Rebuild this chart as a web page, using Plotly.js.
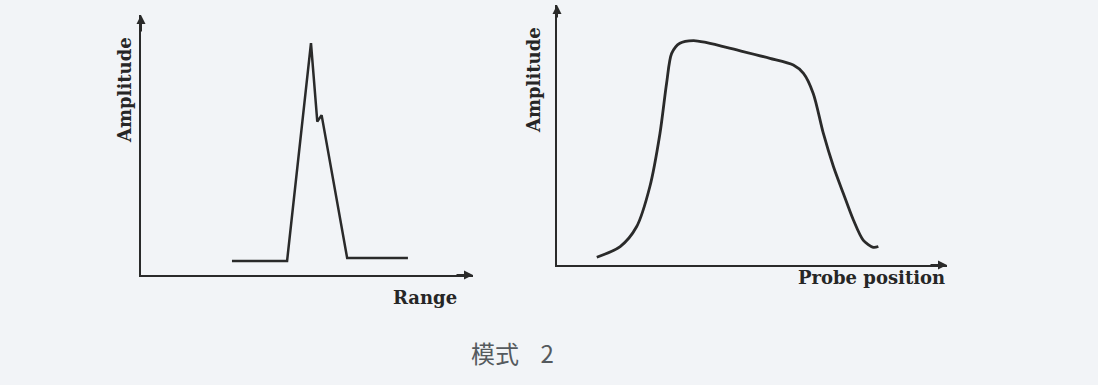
<!DOCTYPE html>
<html>
<head>
<meta charset="utf-8">
<script src="https://cdn.plot.ly/plotly-3.0.1.min.js"></script>
<style>
  html, body { margin: 0; padding: 0; background: #f2f4f7; }
  #chart { width: 1098px; height: 385px; }
</style>
</head>
<body>
<div id="chart"></div>
<script>
// Left panel: A-scan (Amplitude vs Range), values in % of axis length
const rangeX = [27.4, 44.0, 51.2, 53.1, 54.4, 62.1, 80.4];
const rangeAmp = [5.4, 5.4, 89.2, 59.0, 61.5, 6.5, 6.5];

// Right panel: echo dynamic (Amplitude vs Probe position)
const probeX = [10.2, 16.2, 20.4, 23.8, 26.4, 28.1, 29.4, 31.5, 35.0, 38.4, 46.1, 54.6, 60.6, 63.2, 65.7, 68.3, 70.9, 73.4, 76.0, 78.5, 81.1, 82.4];
const probeAmp = [3.0, 7.1, 14.7, 30.1, 50.6, 69.9, 81.4, 85.3, 86.3, 85.5, 82.7, 79.5, 76.9, 73.7, 66.0, 50.6, 37.8, 27.6, 17.3, 9.6, 6.8, 7.1];

const leftXTitle = "Range";
const rightXTitle = "Probe position";
const yTitle = "Amplitude";
const caption = "模式\u00a0\u00a0\u00a0\u00a02";

const W = 1098, H = 385;
const lineCol = "#2a2a2a";
const labelFont = { family: "DejaVu Serif, Liberation Serif, serif", size: 18, color: "#262626", weight: "bold" };

function ax(domain) {
  return { domain: domain, range: [0, 100], showline: true, linecolor: lineCol, linewidth: 2,
           showgrid: false, zeroline: false, showticklabels: false, ticks: "", fixedrange: true };
}

const traces = [
  { x: rangeX, y: rangeAmp, xaxis: "x", yaxis: "y", mode: "lines", line: { color: lineCol, width: 2.5 }, hoverinfo: "skip" },
  { x: probeX, y: probeAmp, xaxis: "x2", yaxis: "y2", mode: "lines", line: { color: lineCol, width: 2.8, shape: "spline", smoothing: 0.8 }, hoverinfo: "skip" }
];

const arrow = (xr, yr, x, y, axp, ayp) => ({ xref: xr, yref: yr, x: x, y: y, ax: axp, ay: ayp, text: "", showarrow: true,
  arrowhead: 2, arrowsize: 0.9, arrowwidth: 2, arrowcolor: lineCol });

const layout = {
  width: W, height: H,
  margin: { l: 0, r: 0, t: 0, b: 0 },
  paper_bgcolor: "#f2f4f7", plot_bgcolor: "rgba(0,0,0,0)",
  showlegend: false,
  xaxis: Object.assign(ax([141 / W, 473 / W]), { anchor: "y" }),
  yaxis: Object.assign(ax([(H - 275) / H, (H - 15) / H]), { anchor: "x" }),
  xaxis2: Object.assign(ax([557 / W, 947 / W]), { anchor: "y2" }),
  yaxis2: Object.assign(ax([(H - 265) / H, (H - 5) / H]), { anchor: "x2" }),
  annotations: [
    arrow("x", "y", 100, 0, -18, 0),
    arrow("x", "y", 0, 100, 0, 18),
    arrow("x2", "y2", 100, 0, -18, 0),
    arrow("x2", "y2", 0, 100, 0, 14),
    { xref: "paper", yref: "paper", x: 125 / W, y: (H - 90) / H, text: yTitle, textangle: -90, showarrow: false,
      font: labelFont, xanchor: "center", yanchor: "middle" },
    { xref: "paper", yref: "paper", x: 425 / W, y: (H - 297) / H, text: leftXTitle, showarrow: false,
      font: labelFont, xanchor: "center", yanchor: "middle" },
    { xref: "paper", yref: "paper", x: 534 / W, y: (H - 80) / H, text: yTitle, textangle: -90, showarrow: false,
      font: labelFont, xanchor: "center", yanchor: "middle" },
    { xref: "paper", yref: "paper", x: 871 / W, y: (H - 277) / H, text: rightXTitle, showarrow: false,
      font: labelFont, xanchor: "center", yanchor: "middle" },
    { xref: "paper", yref: "paper", x: 512 / W, y: (H - 352) / H, text: caption, showarrow: false,
      font: { family: "Noto Sans CJK SC, sans-serif", size: 24, color: "#555a5e" }, xanchor: "center", yanchor: "middle" }
  ]
};

Plotly.newPlot("chart", traces, layout, { staticPlot: true, displayModeBar: false });
</script>
</body>
</html>
